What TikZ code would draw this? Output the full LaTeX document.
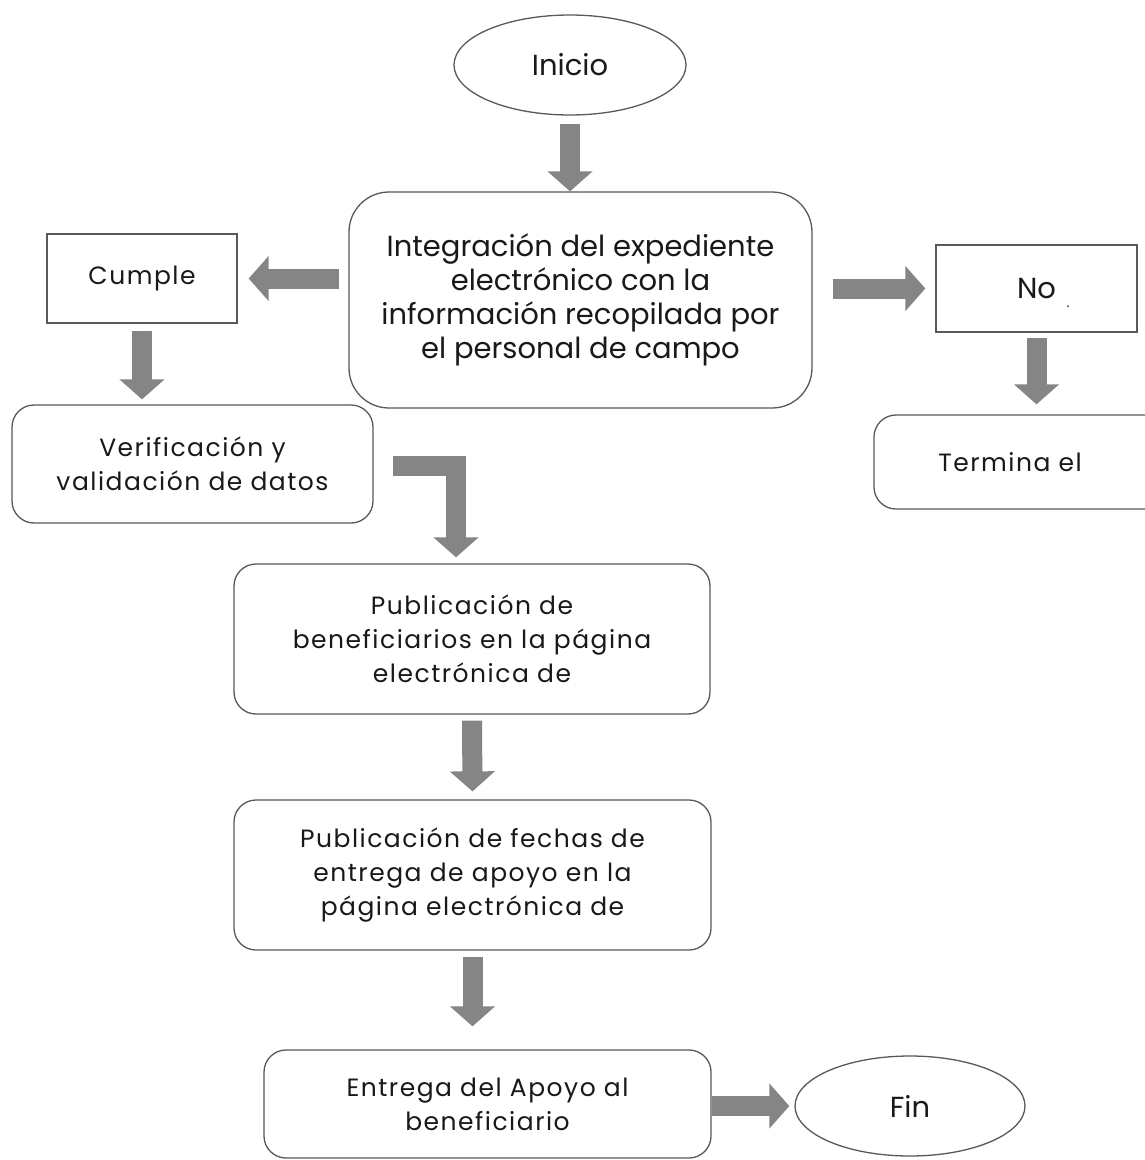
\documentclass[tikz,border=0pt]{standalone}
\usepackage{fontspec}
\setmainfont{Poppins}
\newfontfamily\spacedfont[LetterSpace=6]{Poppins}
\usetikzlibrary{shapes.geometric,arrows.meta}
\begin{document}
\begin{tikzpicture}[x=1pt,y=1pt,
  every node/.style={font=\fontsize{29}{34}\selectfont, text=black!90},
  sp/.style={font=\fontsize{25}{34}\spacedfont},
  boxline/.style={draw=black!65, line width=1.3pt},
  rbox/.style={boxline, rounded corners=22pt, align=center, inner sep=0pt},
  sbox/.style={boxline, align=center, inner sep=0pt},
  oval/.style={boxline, ellipse, inner sep=0pt},
  bigarrow/.style={draw=black!48, line width=20pt, line join=miter,
    -{Triangle[width=44pt,length=20pt]}}
]
\useasboundingbox[fill=white] (0,0) rectangle (1144,-1160);

\node[oval, minimum width=232pt, minimum height=100pt] (inicio) at (570,-65) {Inicio};
\node[rbox, rounded corners=40pt, minimum width=463pt, minimum height=216pt] (integ) at (580.5,-300)
  {Integración del expediente\\electrónico con la\\información recopilada por\\el personal de campo};
\node[sbox, sp, minimum width=190pt, minimum height=89pt] (cumple) at (142,-278.5) {Cumple};
\node[rbox, sp, minimum width=361pt, minimum height=118pt] (verif) at (192.5,-464)
  {Verificación y\\validación de datos};
\node[sbox, minimum width=201pt, minimum height=87pt] (no) at (1036.5,-288.5) {No};
\node[font=\fontsize{14}{14}\selectfont] (dot) at (1068,-307) {.};
\node[rbox, sp, minimum width=300pt, minimum height=94pt] (termina) at (1024,-462) {Termina el\hspace*{28pt}};
\node[rbox, sp, minimum width=476pt, minimum height=150pt] (pub1) at (472,-639)
  {Publicación de\\beneficiarios en la página\\electrónica de};
\node[rbox, sp, minimum width=477pt, minimum height=150pt] (pub2) at (472.5,-875)
  {Publicación de fechas de\\entrega de apoyo en la\\página electrónica de};
\node[rbox, sp, minimum width=447pt, minimum height=108pt] (entrega) at (487.5,-1104)
  {Entrega del Apoyo al\\beneficiario};
\node[oval, minimum width=230pt, minimum height=100pt] (fin) at (910,-1106) {Fin};

\draw[bigarrow] ([yshift=-8pt]inicio.south) -- (inicio.south |- integ.north);
\draw[bigarrow] ([xshift=-9pt]integ.west |- cumple) -- ([xshift=11pt]cumple.east);
\draw[bigarrow] ([xshift=20pt]integ.east |- no) -- ([xshift=-10pt]no.west);
\draw[bigarrow] ([yshift=-7pt]cumple.south) -- ([yshift=5pt]verif.north -| cumple);
\draw[bigarrow] ([yshift=-5pt]no.south) -- ([yshift=10pt]termina.north -| no);
\coordinate (lstart) at ([xshift=19pt,yshift=-2pt]verif.east);
\coordinate (lbend) at (456,-466);
\draw[bigarrow] (lstart) -- (lbend) -- ([yshift=6pt]pub1.north -| lbend);
\draw[bigarrow] ([yshift=-6pt]pub1.south) -- ([yshift=8pt]pub2.north);
\draw[bigarrow] ([yshift=-6pt]pub2.south) -- ([yshift=23pt]entrega.north -| pub2);
\draw[bigarrow] (entrega.east |- fin) -- ([xshift=-5pt]fin.west);
\end{tikzpicture}
\end{document}
